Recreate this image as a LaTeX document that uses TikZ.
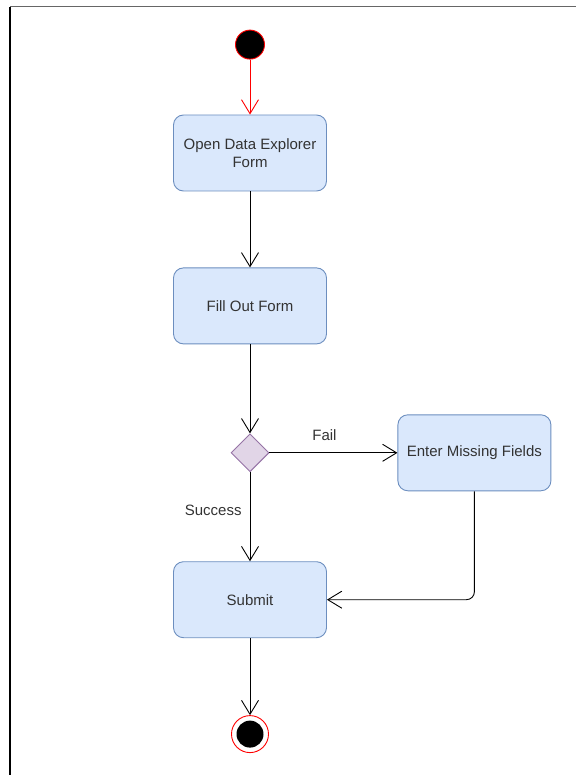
\documentclass[tikz,border=0pt]{standalone}
\usepackage{fontspec}
\setmainfont{Liberation Sans}
\usetikzlibrary{arrows.meta, positioning, shapes.geometric}
\definecolor{cFill}{HTML}{DAE8FC}
\definecolor{cEdge}{HTML}{6C8EBF}
\definecolor{cDec}{HTML}{E1D5E7}
\definecolor{cDecEdge}{HTML}{9673A6}
\definecolor{cText}{HTML}{333333}

\begin{document}
\begin{tikzpicture}[
  x=1pt, y=1pt, font=\fontsize{15}{18}\selectfont,
  >={Straight Barb[length=14pt, width=17pt]},
  act/.style={rectangle, rounded corners=10pt, draw=cEdge, fill=cFill, line width=0.9pt,
    text=cText, align=center, minimum width=153pt, minimum height=76pt, inner sep=2pt},
  decide/.style={diamond, draw=cDecEdge, fill=cDec, line width=0.9pt, minimum size=38pt, inner sep=0pt},
  startdot/.style={circle, fill=black, draw=red, line width=0.9pt, minimum size=29pt, inner sep=0pt},
  enddot/.style={circle, draw=red, line width=0.9pt, fill=white, minimum size=37pt, inner sep=0pt},
  flow/.style={->, line width=0.9pt, draw=black},
  lbl/.style={text=cText, inner sep=1pt},
]
\useasboundingbox (0,0) rectangle (576,-775);
% frame
\draw[black!60, line width=1pt] (10,-7) -- (576,-7);
\draw[black, line width=1.4pt] (10,-7) -- (10,-775);

% main column
\node[act] (open) at (250,-153) {Open Data Explorer\\Form};
\node[startdot, above=55pt of open] (start) {};
\node[act, below=76pt of open] (fill) {Fill Out Form};
\node[decide, below=89pt of fill] (check) {};
\node[act, right=128pt of check] (missing) {Enter Missing Fields};
\node[act, below=89pt of check] (submit) {Submit};
\node[enddot, below=77pt of submit] (stop) {};
\fill[black] (stop.center) circle (13.5pt);

\draw[flow, draw=red] (start) -- (open);
\draw[flow] (open) -- (fill);
\draw[flow] (fill) -- (check);
\draw[flow] (check) -- node[lbl, above=11pt, pos=0.43] {Fail} (missing);
\draw[flow] (check) -- node[lbl, left=7pt, pos=0.43] {Success} (submit);
\draw[flow, rounded corners=8pt] (missing.south) |- (submit.east);
\draw[flow] (submit) -- (stop);

\end{tikzpicture}
\end{document}
